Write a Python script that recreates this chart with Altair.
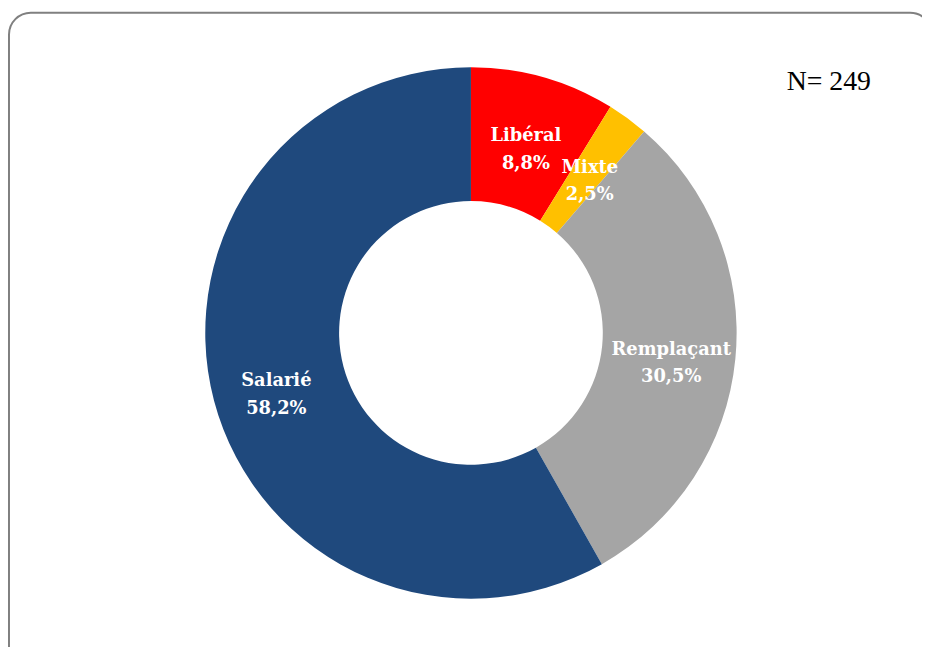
import altair as alt
import pandas as pd

categories = ["Libéral", "Mixte", "Remplaçant", "Salarié"]
values = [8.8, 2.5, 30.5, 58.2]
labels = ["Libéral\n8,8%", "Mixte\n2,5%", "Remplaçant\n30,5%", "Salarié\n58,2%"]
colors = ["#FF0000", "#FFC000", "#A5A5A5", "#1F497D"]
note = "N= 249"

df = pd.DataFrame({
    "cat": categories,
    "val": values,
    "label": labels,
    "ord": list(range(len(categories))),
})

W, H = 922, 639
CX, CY = 467, 325

base = alt.Chart(df).encode(
    theta=alt.Theta("val:Q", stack=True),
    order=alt.Order("ord:Q"),
    color=alt.Color("cat:N", scale=alt.Scale(domain=categories, range=colors), legend=None),
)

arcs = base.mark_arc(outerRadius=268, innerRadius=133, stroke=None).encode(
    x=alt.value(CX), y=alt.value(CY)
)

text = base.mark_text(
    radius=203, font="DejaVu Serif", fontSize=18, fontWeight="bold",
    lineBreak="\n", lineHeight=28, align="center", baseline="middle"
).encode(
    x=alt.value(CX), y=alt.value(CY - 3),
    text="label:N",
    color=alt.value("white"),
)

border = alt.Chart(pd.DataFrame({"a": [0]})).mark_rect(
    fill=None, stroke="#808080", strokeWidth=2, cornerRadius=22
).encode(
    x=alt.value(1), x2=alt.value(932), y=alt.value(2), y2=alt.value(680)
)

ntext = alt.Chart(pd.DataFrame({"t": [note]})).mark_text(
    font="Liberation Serif", fontSize=28, align="center", baseline="middle", color="black"
).encode(x=alt.value(828), y=alt.value(72), text="t:N")

chart = alt.layer(border, arcs, text, ntext).properties(
    width=W, height=H, autosize=alt.AutoSizeParams(type="none"), padding=0
).configure_view(stroke=None)

chart.save("out.html", embed_options={"renderer": "svg", "actions": False})
